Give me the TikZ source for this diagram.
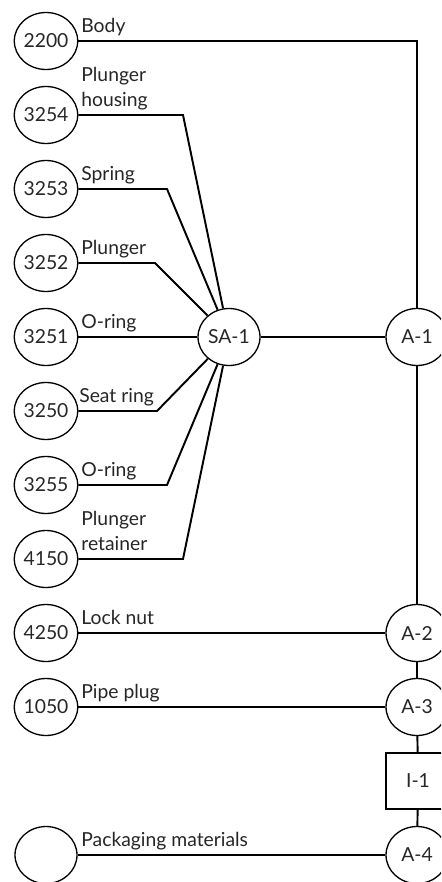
\documentclass[tikz,border=0pt]{standalone}
\usepackage{fontspec}
\setmainfont{Lato}
\usetikzlibrary{shapes.geometric}

\begin{document}
\begin{tikzpicture}[x=0.02cm, y=-0.02cm, font=\fontsize{11}{14}\selectfont, text=black!85]
                \tikzstyle{circ}=[ellipse, draw, line width=0.75pt, inner sep=0pt, minimum width=1.24cm, minimum height=1.14cm]
                \tikzstyle{insp}=[rectangle, draw, line width=1pt, inner sep=0pt, minimum width=1.28cm, minimum height=1.12cm]
                \tikzstyle{lbl}=[anchor=south west, inner sep=0pt, align=left, text depth=0.2em]
                \tikzstyle{conn}=[line width=1.1pt]

                \clip (0,0) rectangle (441,882);

                % parts, left column
                \node[circ] (p2200) at (46,41)  {2200};
                \node[circ] (p3254) at (46,115) {3254};
                \node[circ] (p3253) at (46,189) {3253};
                \node[circ] (p3252) at (46,263) {3252};
                \node[circ] (p3251) at (46,337) {3251};
                \node[circ] (p3250) at (46,411) {3250};
                \node[circ] (p3255) at (46,485) {3255};
                \node[circ] (p4150) at (46,559) {4150};
                \node[circ] (p4250) at (46,633) {4250};
                \node[circ] (p1050) at (46,707) {1050};
                \node[circ] (pPack) at (46,855) {};

                % names of the parts
                \node[lbl] (t2200) at (81,36)  {Body};
                \node[lbl] (t3254) at (81,110) {Plunger\\housing};
                \node[lbl] (t3253) at (81,184) {Spring};
                \node[lbl] (t3252) at (81,258) {Plunger};
                \node[lbl] (t3251) at (81,332) {O-ring};
                \node[lbl] (t3250) at (79,406) {Seat ring};
                \node[lbl] (t3255) at (81,480) {O-ring};
                \node[lbl] (t4150) at (81,554) {Plunger\\retainer};
                \node[lbl] (t4250) at (81,628) {Lock nut};
                \node[lbl] (t1050) at (81,702) {Pipe plug};
                \node[lbl] (tPack) at (81,850) {Packaging materials};

                % subassembly, assemblies, inspection
                \node[circ] (SA1) at (229,337) {SA-1};
                \node[circ] (A1)  at (417,337) {A-1};
                \node[circ] (A2)  at (417,633) {A-2};
                \node[circ] (A3)  at (417,707) {A-3};
                \node[insp] (I1)  at (418,781) {I-1};
                \node[circ] (A4)  at (417,855) {A-4};

                % bends of the fan into SA-1
                \coordinate (k3254) at (183,115);
                \coordinate (k3253) at (167,189);
                \coordinate (k3252) at (155,263);
                \coordinate (k3250) at (157,411);
                \coordinate (k3255) at (167,485);
                \coordinate (k4150) at (183,559);

                \draw[conn] (p3254) -- (k3254) -- (SA1);
                \draw[conn] (p3253) -- (k3253) -- (SA1);
                \draw[conn] (p3252) -- (k3252) -- (SA1);
                \draw[conn] (p3251) -- (SA1);
                \draw[conn] (p3250) -- (k3250) -- (SA1);
                \draw[conn] (p3255) -- (k3255) -- (SA1);
                \draw[conn] (p4150) -- (k4150) -- (SA1);

                \draw[conn] (p2200) -| (A1);
                \draw[conn] (SA1) -- (A1);
                \draw[conn] (p4250) -- (A2);
                \draw[conn] (p1050) -- (A3);
                \draw[conn] (pPack) -- (A4);
                \draw[conn] (A1) -- (A2) -- (A3) -- (I1) -- (A4);
            \end{tikzpicture}
\end{document}
